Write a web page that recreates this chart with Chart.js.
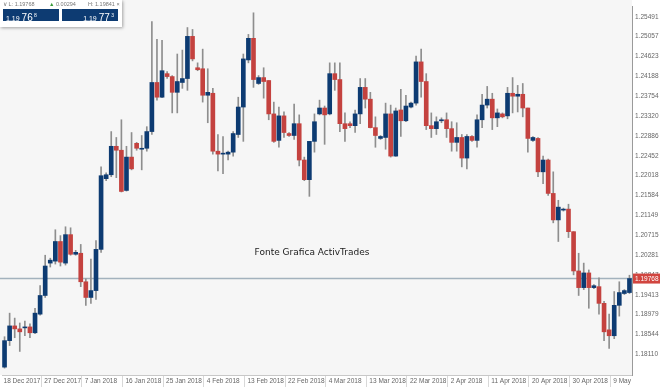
<!DOCTYPE html>
<html>
<head>
<meta charset="utf-8">
<script src="https://cdn.jsdelivr.net/npm/chart.js@4.4.1/dist/chart.umd.min.js"></script>
<style>
  html, body { margin: 0; padding: 0; background: #ffffff; }
  #wrap { position: relative; width: 660px; height: 387px; }
  #quote { position: absolute; left: 0; top: 0; width: 122px; height: 27px; background: #fff;
    box-shadow: 1px 1px 3px rgba(0,0,0,0.35); font-family: "Liberation Sans", Arial, sans-serif; }
  #quote .top { position: absolute; top: 1px; font-size: 5.5px; color: #777; white-space: nowrap; }
  #quote .box { position: absolute; top: 9px; width: 56px; height: 12px; background: #0d3b72; color: #fff;
    white-space: nowrap; line-height: 12px; }
  #quote .sm { font-size: 7px; }
  #quote .big { font-size: 10px; }
  #quote sup { font-size: 5px; vertical-align: 4px; }
</style>
</head>
<body>
<div id="wrap">
  <canvas id="myChart" width="660" height="387"></canvas>
  <div id="quote">
    <span class="top" style="left:3px">&#8744; L: 1.19768</span>
    <span class="top" style="left:49px"><span style="color:#3a9a3a">&#9650;</span> 0.00294</span>
    <span class="top" style="left:88px">H: 1.19841 &#215;</span>
    <div class="box" style="left:3px; padding-left:3px; width:53px"><span class="sm">1.19 </span><span class="big">76</span><sup> 8</sup></div>
    <div class="box" style="left:62px; text-align:right; padding-right:4px; width:52px"><span class="sm">1.19 </span><span class="big">77</span><sup> 3</sup></div>
  </div>
</div>
<script>
// EUR/USD daily candles, 18 Dec 2017 - 9 May 2018
var opens = [
  1.17832, 1.18411, 1.18733, 1.18668, 1.18690, 1.18711, 1.18583, 1.18990, 1.19398, 1.20106,
  1.20149, 1.20578, 1.20106, 1.20728, 1.20299, 1.20321, 1.19698, 1.19355, 1.19505, 1.20406,
  1.21951, 1.22037, 1.22659, 1.22573, 1.21694, 1.22423, 1.22724, 1.22595, 1.22616, 1.22981,
  1.24054, 1.23732, 1.24247, 1.24183, 1.23839, 1.24054, 1.24140, 1.25062, 1.24376, 1.24354,
  1.23775, 1.23818, 1.22552, 1.22488, 1.22488, 1.22531, 1.22917, 1.23517, 1.24547, 1.25019,
  1.24032, 1.24161, 1.24097, 1.23367, 1.22788, 1.23324, 1.22938, 1.22895, 1.23153, 1.22359,
  1.21930, 1.22767, 1.23367, 1.23496, 1.23367, 1.24247, 1.24118, 1.23153, 1.23153, 1.23110,
  1.23367, 1.23947, 1.23689, 1.23067, 1.22831, 1.22852, 1.23367, 1.22445, 1.23453, 1.23217,
  1.23517, 1.23603, 1.24504, 1.24075, 1.23110, 1.23045, 1.23217, 1.23239, 1.23045, 1.22745,
  1.22852, 1.22402, 1.22874, 1.22788, 1.23239, 1.23560, 1.23689, 1.23281, 1.23367, 1.23324,
  1.23818, 1.23754, 1.23796, 1.23496, 1.22788, 1.22831, 1.22101, 1.22359, 1.21629, 1.21050,
  1.21265, 1.21286, 1.20793, 1.19934, 1.19570, 1.19891, 1.19570, 1.19591, 1.19226, 1.18647,
  1.18518, 1.19183, 1.19441, 1.19462
]
var highs = [
  1.18497, 1.19012, 1.18904, 1.18797, 1.18840, 1.18776, 1.19119, 1.19612, 1.20278, 1.20213,
  1.20835, 1.20707, 1.20900, 1.20878, 1.20385, 1.20514, 1.19763, 1.20192, 1.20599, 1.22209,
  1.22080, 1.22981, 1.22852, 1.23239, 1.22659, 1.22960, 1.22745, 1.22895, 1.23088, 1.25384,
  1.24998, 1.24976, 1.24290, 1.24204, 1.24676, 1.24762, 1.25255, 1.25213, 1.24483, 1.24783,
  1.24354, 1.23925, 1.22917, 1.22874, 1.22552, 1.22981, 1.23732, 1.24676, 1.25105, 1.25577,
  1.24204, 1.24376, 1.24097, 1.23625, 1.23517, 1.23410, 1.22960, 1.23582, 1.23346, 1.22423,
  1.22767, 1.23367, 1.23668, 1.23539, 1.24483, 1.24483, 1.24483, 1.23389, 1.23196, 1.23453,
  1.24140, 1.24140, 1.23839, 1.23303, 1.22895, 1.23603, 1.23560, 1.23496, 1.23904, 1.23775,
  1.23625, 1.24633, 1.24783, 1.24247, 1.23389, 1.23303, 1.23281, 1.23389, 1.23196, 1.23174,
  1.22917, 1.22917, 1.22895, 1.23346, 1.23796, 1.23968, 1.23818, 1.23475, 1.23389, 1.23947,
  1.24161, 1.23990, 1.24032, 1.23496, 1.22874, 1.22852, 1.22445, 1.22380, 1.22101, 1.21479,
  1.21308, 1.21393, 1.20793, 1.20321, 1.20106, 1.19956, 1.19634, 1.19784, 1.19269, 1.18990,
  1.19484, 1.19698, 1.19527, 1.19841
]
var lows = [
  1.17810, 1.18304, 1.18475, 1.18175, 1.18518, 1.18475, 1.18561, 1.18969, 1.19355, 1.20020,
  1.20085, 1.20042, 1.20063, 1.20278, 1.20278, 1.19591, 1.19183, 1.19226, 1.19312, 1.20342,
  1.21908, 1.21994, 1.21973, 1.21660, 1.21680, 1.22144, 1.22573, 1.22144, 1.22552, 1.22917,
  1.23668, 1.23720, 1.24140, 1.23389, 1.23389, 1.23925, 1.23882, 1.24526, 1.24311, 1.23625,
  1.23174, 1.22488, 1.22123, 1.22058, 1.22359, 1.22445, 1.22852, 1.22767, 1.24483, 1.23947,
  1.24011, 1.23711, 1.23239, 1.22745, 1.22638, 1.22852, 1.22874, 1.22809, 1.22230, 1.21908,
  1.21565, 1.22531, 1.23346, 1.22702, 1.23346, 1.23882, 1.22981, 1.22767, 1.23067, 1.22960,
  1.23153, 1.23496, 1.23060, 1.22638, 1.22809, 1.22595, 1.22423, 1.22440, 1.22874, 1.23196,
  1.23496, 1.23560, 1.23732, 1.23024, 1.22852, 1.22917, 1.23174, 1.22852, 1.22552, 1.22552,
  1.22209, 1.22166, 1.22767, 1.22638, 1.23067, 1.23496, 1.23024, 1.23088, 1.23281, 1.23260,
  1.23389, 1.23410, 1.23303, 1.22531, 1.22767, 1.21994, 1.21844, 1.21586, 1.20986, 1.20578,
  1.21243, 1.20664, 1.19849, 1.19398, 1.19527, 1.19119, 1.19548, 1.18990, 1.18411, 1.18239,
  1.18454, 1.18947, 1.19419, 1.19441
]
var closes = [
  1.18411, 1.18733, 1.18668, 1.18604, 1.18711, 1.18583, 1.19012, 1.19398, 1.20042, 1.20170,
  1.20578, 1.20127, 1.20728, 1.20299, 1.20342, 1.19698, 1.19355, 1.19505, 1.20406, 1.22016,
  1.22037, 1.22659, 1.22573, 1.21672, 1.22423, 1.22166, 1.22616, 1.22616, 1.22981, 1.24054,
  1.23732, 1.24311, 1.24183, 1.23839, 1.24075, 1.24140, 1.25062, 1.24569, 1.24333, 1.23775,
  1.23839, 1.22552, 1.22488, 1.22509, 1.22531, 1.22938, 1.23517, 1.24569, 1.25019, 1.24118,
  1.24161, 1.24075, 1.23367, 1.22767, 1.23324, 1.22960, 1.22895, 1.23153, 1.22359, 1.21930,
  1.22767, 1.23196, 1.23496, 1.23346, 1.24247, 1.24118, 1.23153, 1.23045, 1.23110, 1.23367,
  1.23947, 1.23689, 1.23067, 1.22895, 1.22874, 1.23367, 1.22445, 1.23432, 1.23217, 1.23539,
  1.23603, 1.24504, 1.24075, 1.23110, 1.23045, 1.23196, 1.23239, 1.23045, 1.22745, 1.22852,
  1.22402, 1.22874, 1.22788, 1.23239, 1.23560, 1.23689, 1.23281, 1.23389, 1.23303, 1.23818,
  1.23754, 1.23796, 1.23496, 1.22831, 1.22852, 1.22101, 1.22359, 1.21629, 1.21050, 1.21329,
  1.21286, 1.20793, 1.19934, 1.19570, 1.19891, 1.19570, 1.19612, 1.19226, 1.18604, 1.18518,
  1.19183, 1.19462, 1.19505, 1.19768
]
var dateLabels = ['18 Dec 2017', '27 Dec 2017', '7 Jan 2018', '16 Jan 2018', '25 Jan 2018', '4 Feb 2018',
  '13 Feb 2018', '22 Feb 2018', '4 Mar 2018', '13 Mar 2018', '22 Mar 2018', '2 Apr 2018',
  '11 Apr 2018', '20 Apr 2018', '30 Apr 2018', '9 May 2018']
var priceTicks = [1.25491, 1.25057, 1.24623, 1.24188, 1.23754, 1.23320, 1.22886, 1.22452, 1.22018,
  1.21584, 1.21149, 1.20715, 1.20281, 1.19847, 1.19413, 1.18979, 1.18544, 1.18110]
var lastPrice = 1.19768
var watermark = 'Fonte Grafica ActivTrades'

var labelStep = 8 // one date label every 8 candles
var bullColor = '#0d3b72'
var bearColor = '#c4423f'

var idx = opens.map(function(v, i) { return i })
var bodies = opens.map(function(o, i) { return [o, closes[i]] })
var wicks = lows.map(function(l, i) { return [l, highs[i]] })

var decorPlugin = {
    id: 'decor',
    beforeDraw: function(chart) {
        var c = chart.ctx, a = chart.chartArea
        c.save()
        c.fillStyle = '#ffffff'
        c.fillRect(0, 0, chart.width, chart.height)
        c.fillStyle = '#f6f6f6'
        c.fillRect(0, 0, a.right, a.bottom)
        c.restore()
    },
    beforeDatasetsDraw: function(chart) {
        var c = chart.ctx, a = chart.chartArea
        var y = chart.scales.y.getPixelForValue(lastPrice)
        c.save()
        c.font = '9px "DejaVu Sans"'
        c.fillStyle = '#222'
        c.textAlign = 'center'
        c.textBaseline = 'middle'
        c.fillText(watermark, 312, 253)
        c.strokeStyle = '#a3b2bd'
        c.lineWidth = 1.5
        c.beginPath()
        c.moveTo(0, y)
        c.lineTo(a.right, y)
        c.stroke()
        c.restore()
    },
    afterDraw: function(chart) {
        var c = chart.ctx, a = chart.chartArea
        var x = chart.scales.x
        var y = chart.scales.y.getPixelForValue(lastPrice)
        var step = x.getPixelForValue(1) - x.getPixelForValue(0)
        c.save()
        // the last date is cut at the price axis, like the original
        c.fillStyle = '#ffffff'
        c.fillRect(a.right + 1, a.bottom + 1, chart.width - a.right, chart.height - a.bottom)
        // separators in the date strip
        c.strokeStyle = '#d8d8d8'
        c.lineWidth = 1
        for (var i = labelStep; i < opens.length; i += labelStep) {
            var px = Math.round(x.getPixelForValue(i) - step / 2 - 2) + 0.5
            c.beginPath()
            c.moveTo(px, a.bottom + 1)
            c.lineTo(px, chart.height)
            c.stroke()
        }
        // last price label
        c.fillStyle = '#d1453f'
        c.fillRect(a.right + 1, y - 5, chart.width - a.right - 1, 10)
        c.fillStyle = '#ffffff'
        c.font = '6.5px "Liberation Sans"'
        c.textAlign = 'left'
        c.textBaseline = 'middle'
        c.fillText(lastPrice.toFixed(5), a.right + 3, y + 0.5)
        c.restore()
    }
}

var ctx = document.getElementById('myChart').getContext('2d')
var myChart = new Chart(ctx, {
    type: 'bar',
    data: {
        labels: idx,
        datasets: [{
            label: 'body',
            data: bodies,
            grouped: false,
            order: 1,
            barThickness: 4,
            borderWidth: 0,
            borderSkipped: false,
            backgroundColor: function(c) {
                var i = c.dataIndex
                return closes[i] >= opens[i] ? bullColor : bearColor
            }
        }, {
            label: 'wick',
            data: wicks,
            grouped: false,
            order: 2,
            barThickness: 1,
            borderWidth: 0,
            backgroundColor: '#8e8e8e'
        }]
    },
    options: {
        responsive: false,
        animation: false,
        devicePixelRatio: 1,
        layout: { padding: { left: 2, top: 0, right: 0, bottom: 0 } },
        plugins: {
            legend: { display: false },
            tooltip: { enabled: false }
        },
        scales: {
            x: {
                grid: { display: false, drawTicks: false },
                border: { display: true, color: '#c8c8c8' },
                afterFit: function(s) { s.height = 12 },
                ticks: {
                    autoSkip: false,
                    maxRotation: 0,
                    align: 'start',
                    labelOffset: -1,
                    padding: 2,
                    color: '#666',
                    font: { family: 'Liberation Sans', size: 6.5 },
                    callback: function(v, i) {
                        return i % labelStep === 0 ? dateLabels[i / labelStep] : null
                    }
                }
            },
            y: {
                position: 'right',
                min: 1.17660,
                max: 1.25706,
                grid: { display: false, drawTicks: false },
                border: { display: true, color: '#9a9a9a' },
                afterFit: function(s) { s.width = 28 },
                afterBuildTicks: function(s) {
                    s.ticks = priceTicks.map(function(v) { return { value: v } })
                },
                ticks: {
                    padding: 3,
                    color: '#666',
                    font: { family: 'Liberation Sans', size: 6.5 },
                    callback: function(v) { return v.toFixed(5) }
                }
            }
        }
    },
    plugins: [decorPlugin]
})
</script>
</body>
</html>
